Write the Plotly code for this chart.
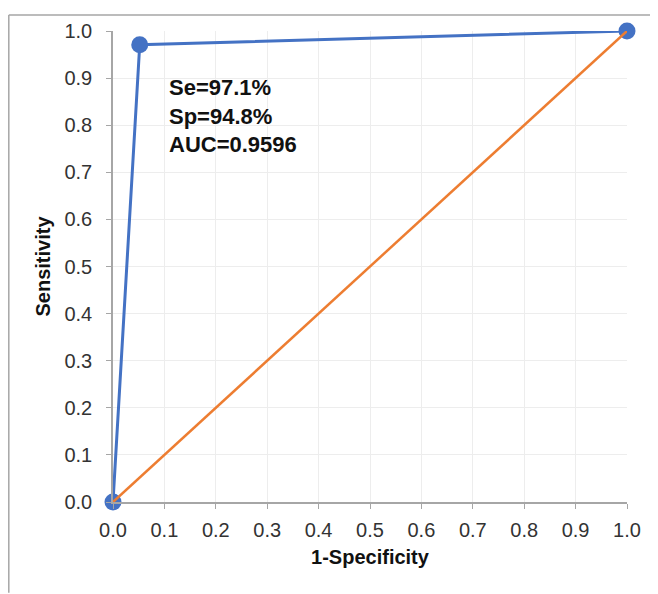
import plotly.graph_objects as go

# ROC data
fpr = [0.0, 0.052, 1.0]          # 1-Specificity
tpr = [0.0, 0.971, 1.0]          # Sensitivity
ref_x = [0.0, 1.0]
ref_y = [0.0, 1.0]
tick_vals = [0.0, 0.1, 0.2, 0.3, 0.4, 0.5, 0.6, 0.7, 0.8, 0.9, 1.0]
tick_text = ["0.0", "0.1", "0.2", "0.3", "0.4", "0.5", "0.6", "0.7", "0.8", "0.9", "1.0"]
stats_text = "<b>Se=97.1%<br>Sp=94.8%<br>AUC=0.9596</b>"

# page has 8px body margin; figure sized to fit the 658x594 window
W, H = 650, 586
L, R, T, B = 105, 31, 17, 92
pw, ph = W - L - R, H - T - B
FONT = "Liberation Sans, Arial"

fig = go.Figure()
fig.add_trace(go.Scatter(
    x=fpr, y=tpr, mode="lines+markers",
    line=dict(color="#4472C4", width=3),
    marker=dict(color="#4472C4", size=17),
    showlegend=False, cliponaxis=False,
))
fig.add_trace(go.Scatter(
    x=ref_x, y=ref_y, mode="lines",
    line=dict(color="#ED7D31", width=2.5),
    showlegend=False, cliponaxis=False,
))

fig.add_annotation(
    x=0.105, y=0.91, xref="x", yref="y", text=stats_text,
    showarrow=False, xanchor="left", yanchor="top", align="left",
    font=dict(family=FONT, size=22, color="#111111"),
)

# outer frame (top and left edges)
fx0 = (0.8 - L) / pw
fy1 = 1 + (T - 0.8) / ph
fig.add_shape(type="line", xref="paper", yref="paper",
              x0=fx0, x1=1 + R / pw, y0=fy1, y1=fy1,
              line=dict(color="#a6a6a6", width=1.5))
fig.add_shape(type="line", xref="paper", yref="paper",
              x0=fx0, x1=fx0, y0=fy1, y1=-B / ph,
              line=dict(color="#a6a6a6", width=1.5))

axis_common = dict(
    range=[0, 1.0], tickvals=tick_vals, ticktext=tick_text,
    showgrid=True, gridcolor="#ededed", gridwidth=1,
    showline=True, linecolor="#a6a6a6", linewidth=1.5,
    ticks="outside", ticklen=5, tickcolor="#a6a6a6",
    tickfont=dict(family=FONT, size=20, color="#333333"),
    zeroline=False,
)

fig.update_layout(
    width=W, height=H,
    margin=dict(l=L, r=R, t=T, b=B),
    paper_bgcolor="white", plot_bgcolor="white",
    xaxis=dict(**axis_common, ticklabelstandoff=4,
               title=dict(text="<b>1-Specificity</b>", standoff=10,
                          font=dict(family=FONT, size=20, color="#111111"))),
    yaxis=dict(**axis_common, ticklabelstandoff=10,
               title=dict(text="<b>Sensitivity</b>", standoff=8,
                          font=dict(family=FONT, size=20, color="#111111"))),
)

fig.write_html("out.html")
